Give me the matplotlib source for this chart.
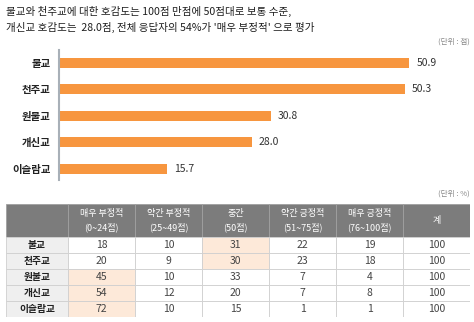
import matplotlib.pyplot as plt
import numpy as np
from matplotlib.patches import Rectangle

plt.rcParams['font.family'] = ['Noto Sans CJK KR', 'DejaVu Sans']

religions = ['불교', '천주교', '원불교', '개신교', '이슬람교']
scores = [50.9, 50.3, 30.8, 28.0, 15.7]

col_heads = ['', '매우 부정적\n(0~24점)', '약간 부정적\n(25~49점)', '중간\n(50점)',
             '약간 긍정적\n(51~75점)', '매우 긍정적\n(76~100점)', '계']
dist = [[18, 10, 31, 22, 19, 100],
        [20, 9, 30, 23, 18, 100],
        [45, 10, 33, 7, 4, 100],
        [54, 12, 20, 7, 8, 100],
        [72, 10, 15, 1, 1, 100]]

W, H = 474, 322
fig = plt.figure(figsize=(W / 100, H / 100), dpi=100)
fig.patch.set_facecolor('white')

fig.text(6 / W, 1 - 11 / H, '불교와 천주교에 대한 호감도는 100점 만점에 50점대로 보통 수준,',
         fontsize=7.6, color='#1e1e1e', va='center', ha='left')
fig.text(6 / W, 1 - 27 / H, "개신교 호감도는  28.0점, 전체 응답자의 54%가 '매우 부정적' 으로 평가",
         fontsize=7.6, color='#1e1e1e', va='center', ha='left')
fig.text(470 / W, 1 - 42 / H, '(단위 : 점)', fontsize=5.5, color='#888888', ha='right', va='center')
fig.text(470 / W, 1 - 194 / H, '(단위 : %)', fontsize=5.5, color='#888888', ha='right', va='center')

# bar chart
ax = fig.add_axes([59 / W, 1 - 180 / H, 413 / W, 130 / H])
y = np.arange(len(religions))
ax.barh(y, scores, height=0.38, color='#F7963F')
for yi, v in zip(y, scores):
    ax.text(v + 1.0, yi, f'{v:.1f}', va='center', ha='left', fontsize=7.5, color='#333333')
ax.set_xlim(0, 60)
ax.set_ylim(4.42, -0.48)
ax.set_yticks(y)
ax.set_yticklabels(religions, fontsize=7.5, color='#222222', fontweight='bold')
ax.tick_params(axis='y', length=0, pad=6)
ax.set_xticks([])
for s in ['top', 'right', 'bottom']:
    ax.spines[s].set_visible(False)
ax.spines['left'].set_color('#a8b0b8')
ax.spines['left'].set_linewidth(1.5)

# table
tx = fig.add_axes([6 / W, 1 - 317 / H, 464 / W, 113 / H])
widths = [62] + [67] * 6
heights = [33] + [16] * 5
xs = np.concatenate([[0], np.cumsum(widths)])
ys = np.concatenate([[0], np.cumsum(heights)])
tx.set_xlim(0, xs[-1])
tx.set_ylim(ys[-1], 0)
tx.axis('off')

for j in range(len(col_heads)):
    tx.add_patch(Rectangle((xs[j], 0), widths[j], heights[0], facecolor='#7c7c7c',
                           edgecolor='#a0a0a0', linewidth=0.6))
    tx.text(xs[j] + widths[j] / 2, heights[0] / 2, col_heads[j], ha='center', va='center',
            fontsize=6.5, color='white', linespacing=1.5)

for i, name in enumerate(religions):
    top = ys[i + 1]
    h = heights[i + 1]
    tx.add_patch(Rectangle((0, top), widths[0], h, facecolor='#efefef',
                           edgecolor='#cfcfcf', linewidth=0.6))
    tx.text(widths[0] / 2, top + h / 2, name, ha='center', va='center', fontsize=7,
            color='#222222', fontweight='bold')
    hi = int(np.argmax(dist[i][:5]))
    for j, v in enumerate(dist[i]):
        fc = '#FDE9D9' if j == hi else 'white'
        tx.add_patch(Rectangle((xs[j + 1], top), widths[j + 1], h, facecolor=fc,
                               edgecolor='#cfcfcf', linewidth=0.6))
        tx.text(xs[j + 1] + widths[j + 1] / 2, top + h / 2, str(v), ha='center', va='center',
                fontsize=7.5, color='#444444')

fig.savefig('out.png', dpi=100)
